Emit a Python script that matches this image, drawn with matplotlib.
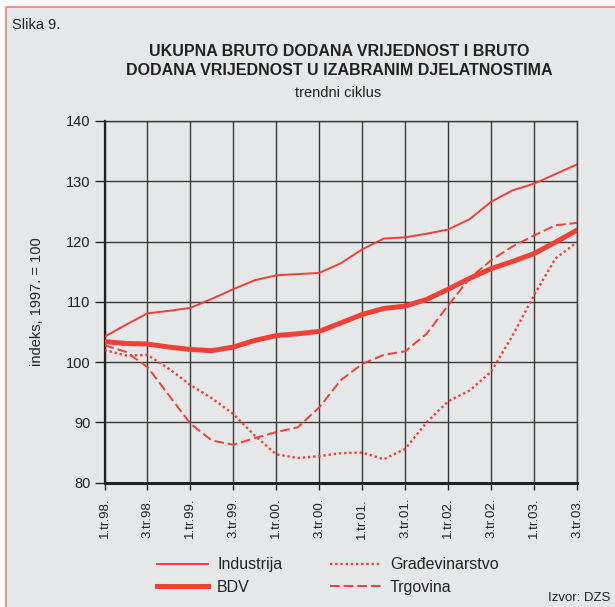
import matplotlib
matplotlib.use('Agg')
import matplotlib.pyplot as plt
from matplotlib.patches import Rectangle

plt.rcParams['font.family'] = ['Liberation Sans', 'DejaVu Sans']

# quarterly index values, 1.tr.98 .. 3.tr.03
quarters = ["1.tr.98.", "2.tr.98.", "3.tr.98.", "4.tr.98.",
            "1.tr.99.", "2.tr.99.", "3.tr.99.", "4.tr.99.",
            "1.tr.00.", "2.tr.00.", "3.tr.00.", "4.tr.00.",
            "1.tr.01.", "2.tr.01.", "3.tr.01.", "4.tr.01.",
            "1.tr.02.", "2.tr.02.", "3.tr.02.", "4.tr.02.",
            "1.tr.03.", "2.tr.03.", "3.tr.03."]
industrija = [104.2, 106.2, 108.1, 108.5, 109.0, 110.5, 112.1, 113.6, 114.4, 114.6,
              114.8, 116.4, 118.7, 120.5, 120.7, 121.3, 122.0, 123.7, 126.6, 128.5,
              129.6, 131.2, 132.8]
bdv = [103.4, 103.1, 103.0, 102.5, 102.1, 101.9, 102.5, 103.6, 104.4, 104.7,
       105.1, 106.5, 107.9, 108.9, 109.3, 110.4, 112.1, 113.9, 115.5, 116.7,
       118.0, 119.9, 121.9]
gradevinarstvo = [102.0, 101.1, 101.2, 98.9, 96.2, 94.0, 91.4, 87.8, 84.7, 84.1,
                  84.4, 84.9, 85.0, 83.9, 85.6, 90.0, 93.5, 95.3, 98.4, 104.4,
                  111.1, 117.2, 119.9]
trgovina = [102.8, 101.7, 99.2, 94.5, 89.8, 87.0, 86.3, 87.4, 88.4, 89.2,
            92.5, 97.0, 99.7, 101.2, 101.8, 104.7, 109.4, 113.9, 116.9, 119.2,
            121.0, 122.7, 123.1]

red = '#ef4136'
bg = '#e6e7e8'

fig = plt.figure(figsize=(6.15, 6.07), dpi=100)
fig.patch.set_facecolor('white')
fig.patches.append(Rectangle((6 / 615, -0.05), 1.1, 1 - 7 / 607 + 0.05,
                             transform=fig.transFigure, facecolor=bg,
                             edgecolor='#f08a84', lw=1.3, zorder=-10))

ax = fig.add_axes([104.5 / 615, 1 - 482.7 / 607, (577 - 104.5) / 615, (482.7 - 121) / 607])
ax.set_facecolor(bg)

x = list(range(len(quarters)))
ax.plot(x, industrija, color=red, lw=1.4, label="Industrija", zorder=3)
ax.plot(x, bdv, color=red, lw=3.6, label="BDV", zorder=3)
ax.plot(x, gradevinarstvo, color=red, lw=1.7, linestyle=(0, (1, 1.2)),
        label="Građevinarstvo", zorder=3)
ax.plot(x, trgovina, color=red, lw=1.4, linestyle=(0, (5, 2)), label="Trgovina", zorder=3)

ax.set_xlim(0, len(quarters) - 1)
ax.set_ylim(80, 140)
ax.set_xticks(x[::2])
ax.set_xticklabels(quarters[::2], rotation=90, fontsize=9.5, color='#222222')
ax.set_yticks(range(80, 141, 10))
ax.tick_params(axis='y', labelsize=10.5, length=7, width=1, colors='#222222', pad=3)
ax.tick_params(axis='x', length=5, width=1, colors='#222222', pad=6)
ax.grid(True, color='#3a3a3a', lw=1)
ax.set_axisbelow(True)
for side in ['top', 'right']:
    ax.spines[side].set_color('#3a3a3a')
    ax.spines[side].set_linewidth(1)
ax.spines['left'].set_linewidth(1.6)
ax.spines['bottom'].set_linewidth(2.2)
ax.spines['left'].set_color('#222222')
ax.spines['bottom'].set_color('#222222')

ax.set_ylabel("indeks, 1997. = 100", fontsize=10.5, color='#222222', labelpad=16)

fig.text(12 / 615, 1 - 25 / 607, "Slika 9.", fontsize=10.5, va='center', color='#222222')
fig.text(339 / 615, 1 - 61 / 607,
         "UKUPNA BRUTO DODANA VRIJEDNOST I BRUTO\nDODANA VRIJEDNOST U IZABRANIM DJELATNOSTIMA",
         ha='center', va='center', fontsize=11.5, fontweight='bold', color='#222222',
         linespacing=1.35)
fig.text(338 / 615, 1 - 93 / 607, "trendni ciklus", ha='center', va='center',
         fontsize=10.5, color='#222222')
fig.text(610 / 615, 1 - 598 / 607, "Izvor: DZS", ha='right', va='center',
         fontsize=9.5, color='#222222')

fig.legend(loc='center', bbox_to_anchor=(328 / 615, 1 - 576 / 607), ncol=2,
           frameon=False, fontsize=11.5, handlelength=3.2, handletextpad=0.55,
           columnspacing=3.0, labelspacing=0.45, labelcolor='#222222')

fig.savefig("out.png", dpi=100)
